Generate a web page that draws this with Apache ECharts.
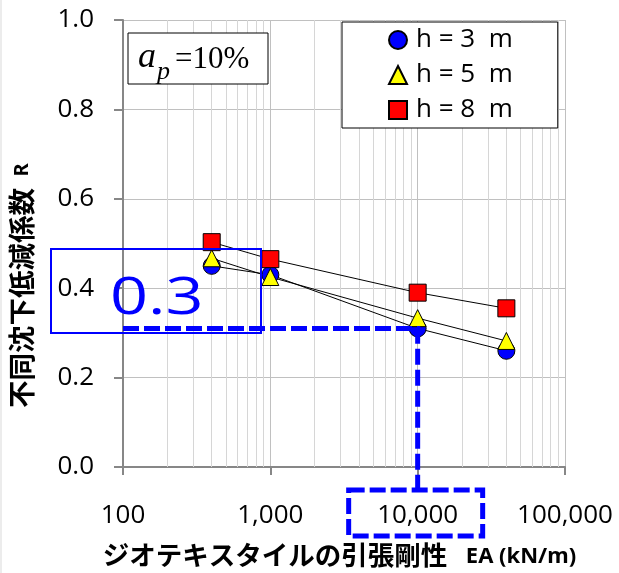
<!DOCTYPE html>
<html><head><meta charset="utf-8">
<script src="https://cdn.jsdelivr.net/npm/echarts@6/dist/echarts.min.js"></script>
<style>html,body{margin:0;padding:0;background:#fff}#c{width:619px;height:573px}</style>
</head><body><div id="c"></div>
<script>
// ---- data ----
const ea = [400, 1000, 10000, 40000];            // EA (kN/m)
const seriesNames = ['h = 3  m', 'h = 5  m', 'h = 8  m'];
const rH3 = [0.45, 0.43, 0.31, 0.26];
const rH5 = [0.467, 0.425, 0.333, 0.282];
const rH8 = [0.503, 0.465, 0.39, 0.355];
const xMin = 100, xMax = 100000;
const yMin = 0, yMax = 1.0, yStep = 0.2;
const minorX = [200, 300, 400, 500, 600, 700, 800, 900,
                2000, 3000, 4000, 5000, 6000, 7000, 8000, 9000,
                20000, 30000, 40000, 50000, 60000, 70000, 80000, 90000];
const guideX = 10000, guideY = 0.31, guideText = '0.3';
const apLabel = ['a', 'p', '=10%'];
const yTitle = '不同沈下低減係数', yTitleSym = 'R';
const xTitle = 'ジオテキスタイルの引張剛性', xTitleUnit = 'EA (kN/m)';

const AX = '#878787', GRID = '#c0c0c0', MINOR = '#d6d6d6', BLUE = '#0000ff';
const NUMFONT = 'Open Sans';

const chart = echarts.init(document.getElementById('c'), null, {renderer: 'canvas'});
const mk = (name, vals, symbol, color) => ({
  name, type: 'line', data: ea.map((x, i) => [x, vals[i]]),
  symbol, symbolSize: 17, showSymbol: true,
  lineStyle: {color: '#000', width: 1},
  itemStyle: {color, borderColor: '#000', borderWidth: 1},
  z: 3
});
const option = {
  animation: false,
  grid: {left: 123, right: 54, top: 20, bottom: 106, containLabel: false},
  xAxis: {
    type: 'log', logBase: 10, min: xMin, max: xMax,
    axisLine: {show: true, lineStyle: {color: AX, width: 2}},
    axisTick: {show: true, length: 8, lineStyle: {color: AX, width: 2}},
    axisLabel: {margin: 36, fontFamily: NUMFONT, fontSize: 26, color: '#000',
      formatter: v => Math.round(v).toString().replace(/\B(?=(\d{3})+(?!\d))/g, ',')},
    splitLine: {show: true, lineStyle: {color: GRID, width: 1}},
    minorTick: {show: false}, minorSplitLine: {show: false}
  },
  yAxis: {
    type: 'value', min: yMin, max: yMax, interval: yStep,
    axisLine: {show: true, lineStyle: {color: AX, width: 2}},
    axisTick: {show: true, length: 9, lineStyle: {color: AX, width: 2}},
    axisLabel: {margin: 29, fontFamily: NUMFONT, fontSize: 26, color: '#000',
      formatter: v => v.toFixed(1)},
    splitLine: {show: true, lineStyle: {color: GRID, width: 1}}
  },
  legend: {
    orient: 'vertical', left: 342, top: 22,
    data: [
      {name: seriesNames[0], icon: 'circle'},
      {name: seriesNames[1], icon: 'triangle'},
      {name: seriesNames[2], icon: 'rect'}
    ],
    itemWidth: 18, itemHeight: 18, itemGap: 9,
    padding: [5, 45, 5, 46],
    borderColor: '#000', borderWidth: 1, backgroundColor: '#fff',
    textStyle: {fontFamily: NUMFONT, fontSize: 26, color: '#000', padding: [0, 0, 0, 4]},
    selectedMode: false
  },
  series: [
    {
      name: '_minor', type: 'line', data: [], z: 1,
      markLine: {
        silent: true, symbol: 'none', z: 1, animation: false,
        label: {show: false},
        lineStyle: {color: MINOR, width: 1, type: 'solid'},
        emphasis: {disabled: true},
        data: minorX.map(v => ({xAxis: v}))
      }
    },
    mk(seriesNames[0], rH3, 'circle', '#0000ff'),
    mk(seriesNames[1], rH5, 'triangle', '#ffff00'),
    mk(seriesNames[2], rH8, 'rect', '#ff0000')
  ]
};
chart.setOption(option);

// ---- annotations placed through the chart's scales ----
const p0 = chart.convertToPixel({gridIndex: 0}, [xMin, guideY]);
const pg = chart.convertToPixel({gridIndex: 0}, [guideX, guideY]);
const pBottom = chart.convertToPixel({gridIndex: 0}, [guideX, yMin]);
const pAp = chart.convertToPixel({gridIndex: 0}, [xMin, yMax]);
const dash = {stroke: BLUE, lineWidth: 5, lineDash: [16, 5], fill: null};
const boxTop = pBottom[1] + 23, boxBot = pBottom[1] + 69;
const txt = (x, y, text, font, extra) => Object.assign({
  type: 'text', x, y, z: 6, silent: true,
  style: {text, font, fill: '#000', textAlign: 'left', align: 'left',
          textVerticalAlign: 'middle', verticalAlign: 'middle'}
}, extra || {});
const graphic = [
  {type: 'line', shape: {x1: 1, y1: 0, x2: 1, y2: 573}, style: {stroke: '#d9d9d9', lineWidth: 1}, z: 0, silent: true},
  // a_p box
  {type: 'rect', shape: {x: pAp[0] + 5, y: pAp[1] + 13, width: 140, height: 51},
    style: {fill: '#fff', stroke: '#000', lineWidth: 1}, z: 5, silent: true},
  txt(pAp[0] + 15, pAp[1] + 38, apLabel[0], 'italic 36px "Liberation Serif"'),
  txt(pAp[0] + 34, pAp[1] + 52, apLabel[1], 'italic 26px "Liberation Serif"'),
  txt(pAp[0] + 52, pAp[1] + 40, apLabel[2], '31px "Liberation Serif"'),
  // y axis title
  txt(22, 298, yTitle, 'bold 27.5px "Noto Sans CJK JP"', {rotation: Math.PI / 2}),
  txt(22, 170, yTitleSym, 'bold 20px "Noto Sans"', {rotation: Math.PI / 2}),
  // x axis title
  txt(275, 555, xTitle, 'bold 26.5px "Noto Sans CJK JP"'),
  txt(521, 557, xTitleUnit, 'bold 22px "Noto Sans"'),
  // blue solid box with 0.3
  {type: 'rect', shape: {x: 51, y: 249, width: 210, height: 84},
    style: {fill: null, stroke: BLUE, lineWidth: 2}, z: 7, silent: true},
  {type: 'text', x: 110, y: 325, scaleX: 1.28, z: 7, silent: true,
    style: {text: guideText, font: '52px "Open Sans"', fill: BLUE, textVerticalAlign: 'bottom', verticalAlign: 'bottom'}},
  // dashed guide lines
  {type: 'polyline', shape: {points: [[p0[0], pg[1]], [pg[0], pg[1]], [pg[0], boxTop]]},
    style: dash, z: 7, silent: true},
  {type: 'rect', shape: {x: pg[0] - 69, y: boxTop, width: 134, height: boxBot - boxTop},
    style: dash, z: 7, silent: true}
];
// centre alignment for rotated / axis titles
[5, 6, 7, 8].forEach(i => { graphic[i].style.textAlign = 'center'; graphic[i].style.align = 'center'; });
chart.setOption({graphic});
</script>
</body></html>
